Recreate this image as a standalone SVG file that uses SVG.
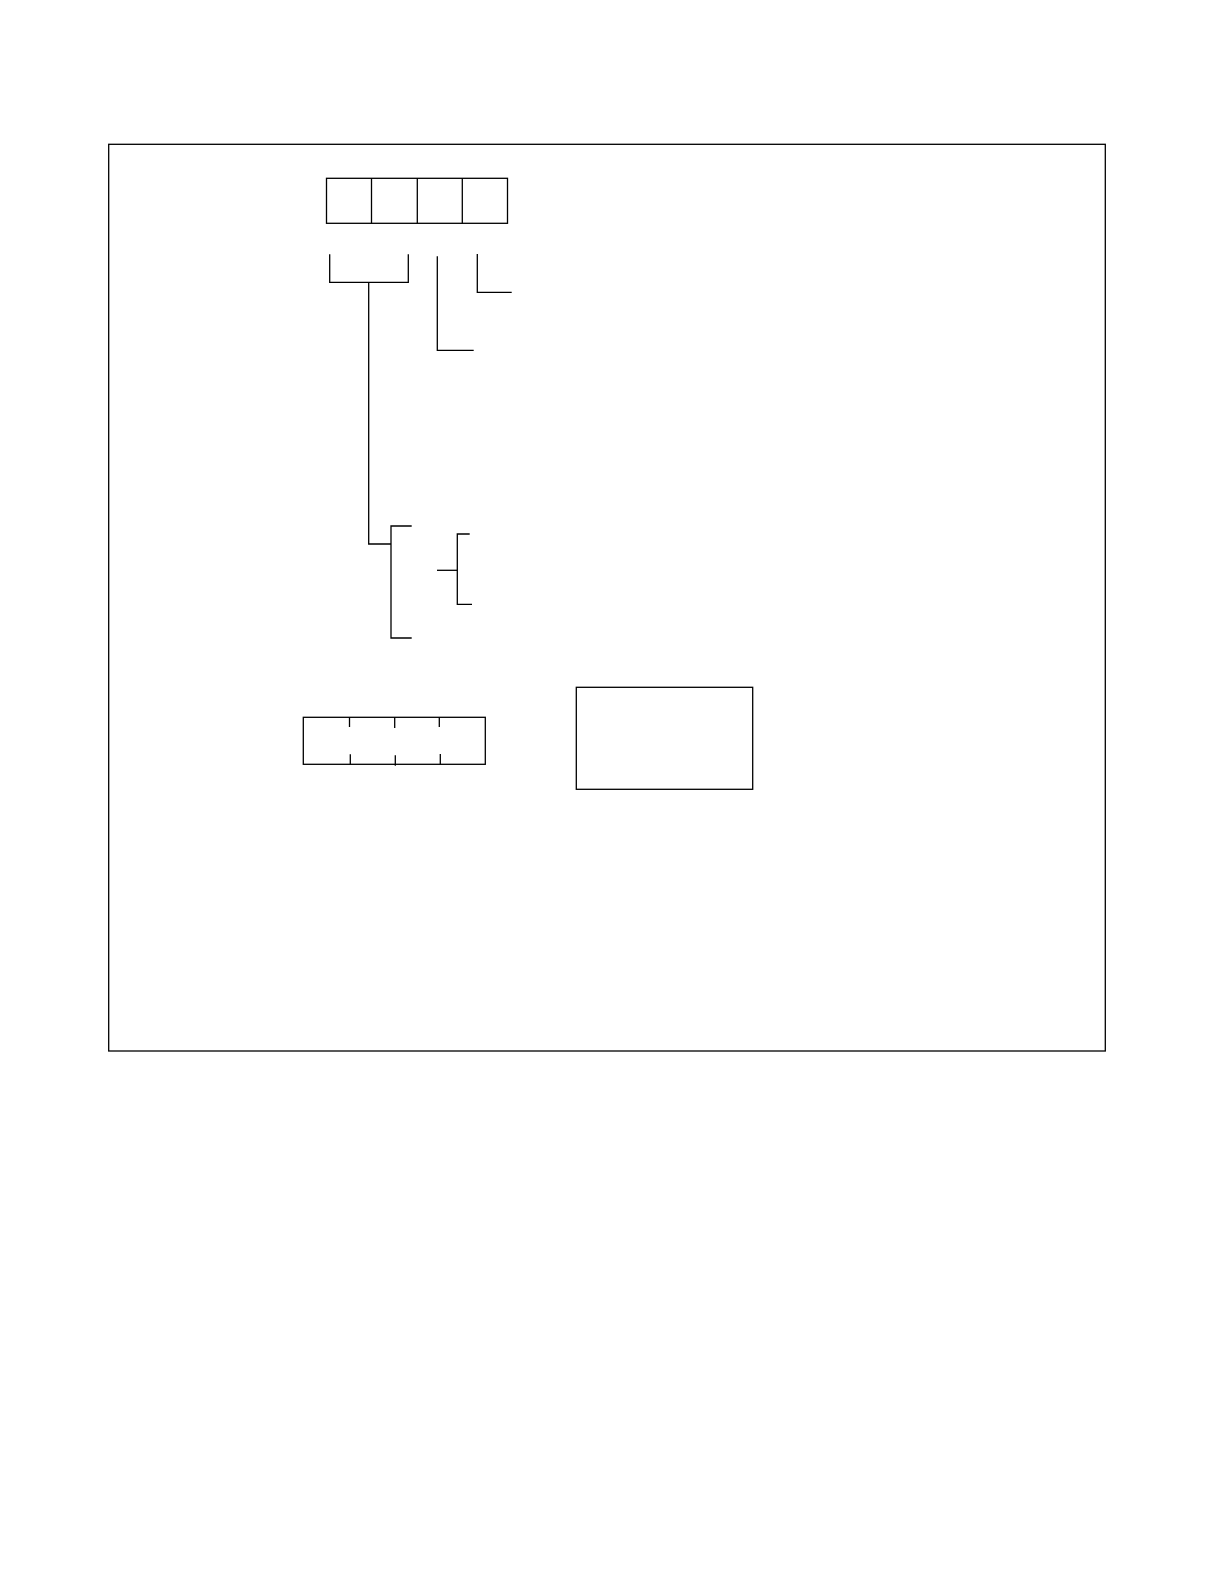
<svg xmlns="http://www.w3.org/2000/svg" width="1224" height="1584" viewBox="0 0 1224 1584">
<style>
.s{fill:none;stroke:#000;stroke-width:1.3}
</style>
<rect width="1224" height="1584" fill="#fff"/>
<g id="frame"><rect class="s" x="108.7" y="144.3" width="996.6" height="906.7"/></g>
<g id="field-box">
<rect class="s" x="326.5" y="178.3" width="181" height="45"/>
<line class="s" x1="371.5" y1="178.3" x2="371.5" y2="223.3"/>
<line class="s" x1="417.3" y1="178.3" x2="417.3" y2="223.3"/>
<line class="s" x1="462.3" y1="178.3" x2="462.3" y2="223.3"/>
</g>
<g id="tick-box">
<rect class="s" x="303.3" y="717.3" width="182" height="47"/>
<line class="s" x1="349.5" y1="717.3" x2="349.5" y2="727"/>
<line class="s" x1="394.7" y1="717.3" x2="394.7" y2="728"/>
<line class="s" x1="439.3" y1="717.3" x2="439.3" y2="727"/>
<line class="s" x1="350.3" y1="754.3" x2="350.3" y2="764.3"/>
<line class="s" x1="395.3" y1="755.3" x2="395.3" y2="765.7"/>
<line class="s" x1="440.3" y1="754" x2="440.3" y2="764.3"/>
</g>
<g id="large-box"><rect class="s" x="576.3" y="687.3" width="176.4" height="102"/></g>
<g id="connectors">
<polyline class="s" points="329.7,254.3 329.7,282.3 408.3,282.3 408.3,254.3"/>
<polyline class="s" points="368.7,282.3 368.7,544 391,544"/>
<polyline class="s" points="411.7,526 391,526 391,638 411.7,638"/>
<polyline class="s" points="437.3,256.3 437.3,350.3 473.7,350.3"/>
<polyline class="s" points="477.3,254 477.3,292.3 511.7,292.3"/>
<line class="s" x1="437" y1="570.3" x2="457.3" y2="570.3"/>
<polyline class="s" points="469.7,534 457.3,534 457.3,604.3 472,604.3"/>
</g>
</svg>
